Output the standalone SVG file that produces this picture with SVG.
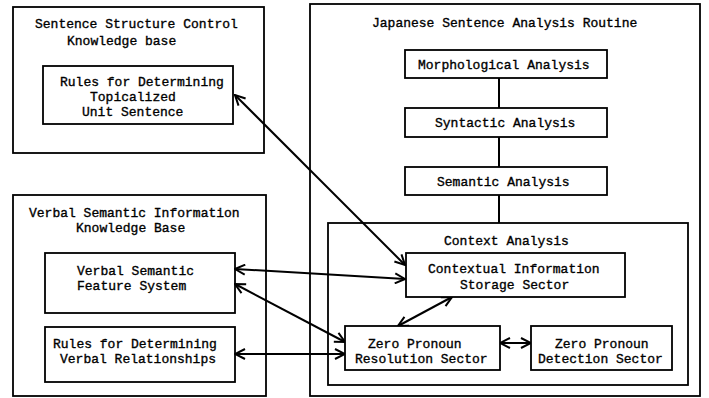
<svg xmlns="http://www.w3.org/2000/svg" width="709" height="398" viewBox="0 0 709 398">
<defs>
<marker id="ah" viewBox="0 0 12 12" refX="11" refY="6" markerWidth="12" markerHeight="12" markerUnits="userSpaceOnUse" orient="auto-start-reverse">
<path d="M1,1 L11,6 L1,11" fill="none" stroke="#000" stroke-width="2"/>
</marker>
</defs>
<style>
rect{fill:#fff;stroke:#000;stroke-width:1.8}
text{font-family:"Liberation Mono","DejaVu Sans Mono",monospace;font-size:13px;fill:#000;stroke:#000;stroke-width:0.35}
.c line{stroke:#000;stroke-width:2}
.a{marker-start:url(#ah);marker-end:url(#ah)}
</style>
<rect x="0" y="0" width="709" height="398" style="stroke:none"/>
<g id="ssckb">
<rect x="13" y="7" width="251" height="146"/>
<text x="35" y="28">Sentence Structure Control</text>
<text x="67" y="45">Knowledge base</text>
</g>
<g id="rules-topic">
<rect x="43" y="66" width="190" height="58"/>
<text x="60" y="86">Rules for Determining</text>
<text x="90" y="101">Topicalized</text>
<text x="82" y="116">Unit Sentence</text>
</g>
<g id="vsikb">
<rect x="13" y="195" width="253" height="201"/>
<text x="29" y="217">Verbal Semantic Information</text>
<text x="76" y="232">Knowledge Base</text>
</g>
<g id="vsfs">
<rect x="45" y="253" width="190" height="60"/>
<text x="77" y="275">Verbal Semantic</text>
<text x="77" y="290">Feature System</text>
</g>
<g id="rules-verbal">
<rect x="45" y="327" width="190" height="55"/>
<text x="53" y="348">Rules for Determining</text>
<text x="60" y="363">Verbal Relationships</text>
</g>
<g id="jsar">
<rect x="310" y="4" width="390" height="392"/>
<text x="372" y="27">Japanese Sentence Analysis Routine</text>
</g>
<g id="context">
<rect x="328" y="223" width="360" height="162"/>
<text x="444" y="245">Context Analysis</text>
</g>
<g class="c" id="connectors">
<line x1="499" y1="78" x2="499" y2="108"/>
<line x1="499" y1="137" x2="499" y2="167"/>
<line x1="499" y1="195" x2="499" y2="223"/>
<line class="a" x1="235" y1="95" x2="405" y2="265"/>
<line class="a" x1="235" y1="269" x2="405" y2="279"/>
<line class="a" x1="235" y1="284" x2="345" y2="342"/>
<line class="a" x1="235" y1="354" x2="345" y2="354"/>
<line class="a" x1="452" y1="297" x2="398" y2="326"/>
<line class="a" x1="500" y1="343" x2="531" y2="343"/>
</g>
<g id="morph">
<rect x="405" y="50" width="202" height="28"/>
<text x="418" y="69">Morphological Analysis</text>
</g>
<g id="synt">
<rect x="405" y="108" width="202" height="29"/>
<text x="435" y="127">Syntactic Analysis</text>
</g>
<g id="sem">
<rect x="405" y="167" width="202" height="28"/>
<text x="437" y="186">Semantic Analysis</text>
</g>
<g id="cis">
<rect x="406" y="253" width="219" height="44"/>
<text x="428" y="273">Contextual Information</text>
<text x="460" y="289">Storage Sector</text>
</g>
<g id="zpr">
<rect x="345" y="326" width="155" height="44"/>
<text x="368" y="348">Zero Pronoun</text>
<text x="355" y="363">Resolution Sector</text>
</g>
<g id="zpd">
<rect x="531" y="326" width="141" height="44"/>
<text x="555" y="348">Zero Pronoun</text>
<text x="538" y="363">Detection Sector</text>
</g>
</svg>
